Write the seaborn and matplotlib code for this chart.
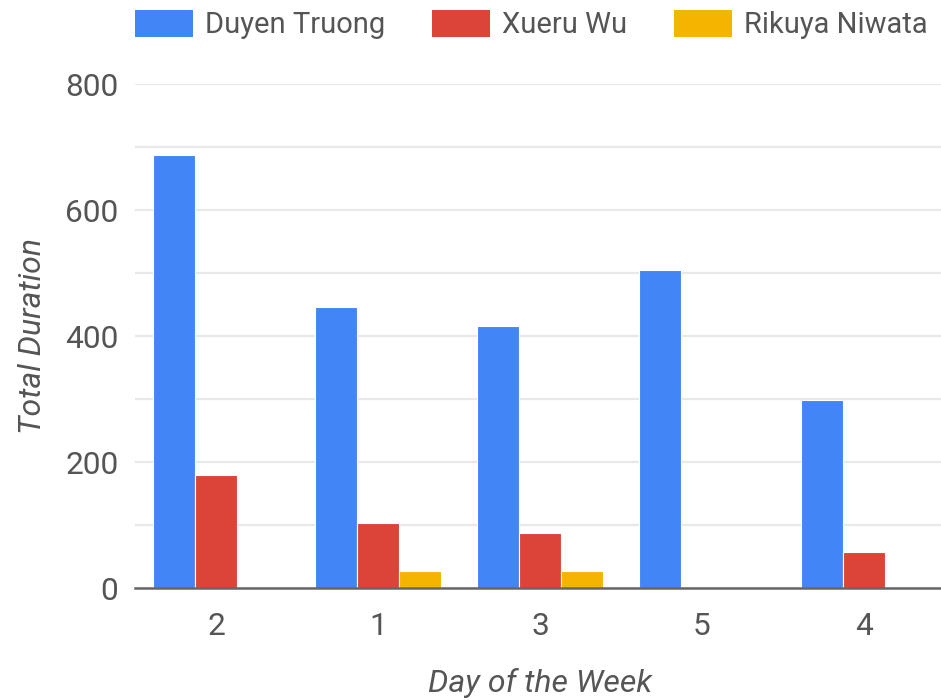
import matplotlib
matplotlib.use("Agg")
import matplotlib.pyplot as plt
import seaborn as sns
import pandas as pd
from matplotlib.patches import Patch

days = ["2", "1", "3", "5", "4"]
series = ["Duyen Truong", "Xueru Wu", "Rikuya Niwata"]
duyen = [687, 446, 416, 505, 298]
xueru = [179, 103, 87, 0, 57]
rikuya = [0, 27, 27, 0, 0]
colors = ["#4285F4", "#DB4437", "#F4B400"]
y_ticks = [0, 200, 400, 600, 800]

rows = []
for name, vals in zip(series, [duyen, xueru, rikuya]):
    for d, v in zip(days, vals):
        rows.append({"Day": d, "Person": name, "Duration": v})
df = pd.DataFrame(rows)

sns.set_theme(style="white")
plt.rcParams["font.family"] = ["Roboto", "DejaVu Sans"]

fig = plt.figure(figsize=(9.41, 7.0), dpi=100)
ax = fig.add_axes([135 / 941, 1 - 588 / 700, 810 / 941, 504 / 700])

sns.barplot(data=df, x="Day", y="Duration", hue="Person", order=days,
            hue_order=series, palette=colors, width=0.78, ax=ax,
            edgecolor="white", linewidth=0.8, legend=False, saturation=1)

ax.set_ylim(0, 800)
ax.set_xlim(-0.5, len(days) - 0.5)
ax.set_yticks(y_ticks)
ax.set_yticks(range(100, 800, 200), minor=True)
ax.grid(True, axis="y", which="both", color="#e8e8e8", linewidth=1.6)
ax.set_axisbelow(True)
for s in ["top", "right", "left"]:
    ax.spines[s].set_visible(False)
ax.spines["bottom"].set_color("#666666")
ax.spines["bottom"].set_linewidth(1.8)
ax.spines["bottom"].set_zorder(5)

ax.tick_params(axis="both", which="both", length=0, labelsize=22.8, colors="#555555")
ax.tick_params(axis="y", pad=12)
ax.tick_params(axis="x", pad=17)

ax.set_xlabel("Day of the Week", fontsize=23, style="italic", color="#555555", labelpad=20)
ax.set_ylabel("Total Duration", fontsize=23, style="italic", color="#555555", labelpad=13)

handles = [Patch(facecolor=c, edgecolor="none") for c in colors]
fig.legend(handles, series, loc="upper left", bbox_to_anchor=(135 / 941, 1 - 10 / 700),
           ncol=3, frameon=False, fontsize=21, handlelength=2.0, handleheight=1.05,
           handletextpad=0.4, columnspacing=1.6, labelcolor="#555555",
           borderpad=0, borderaxespad=0)

fig.savefig("out.png", dpi=100)
